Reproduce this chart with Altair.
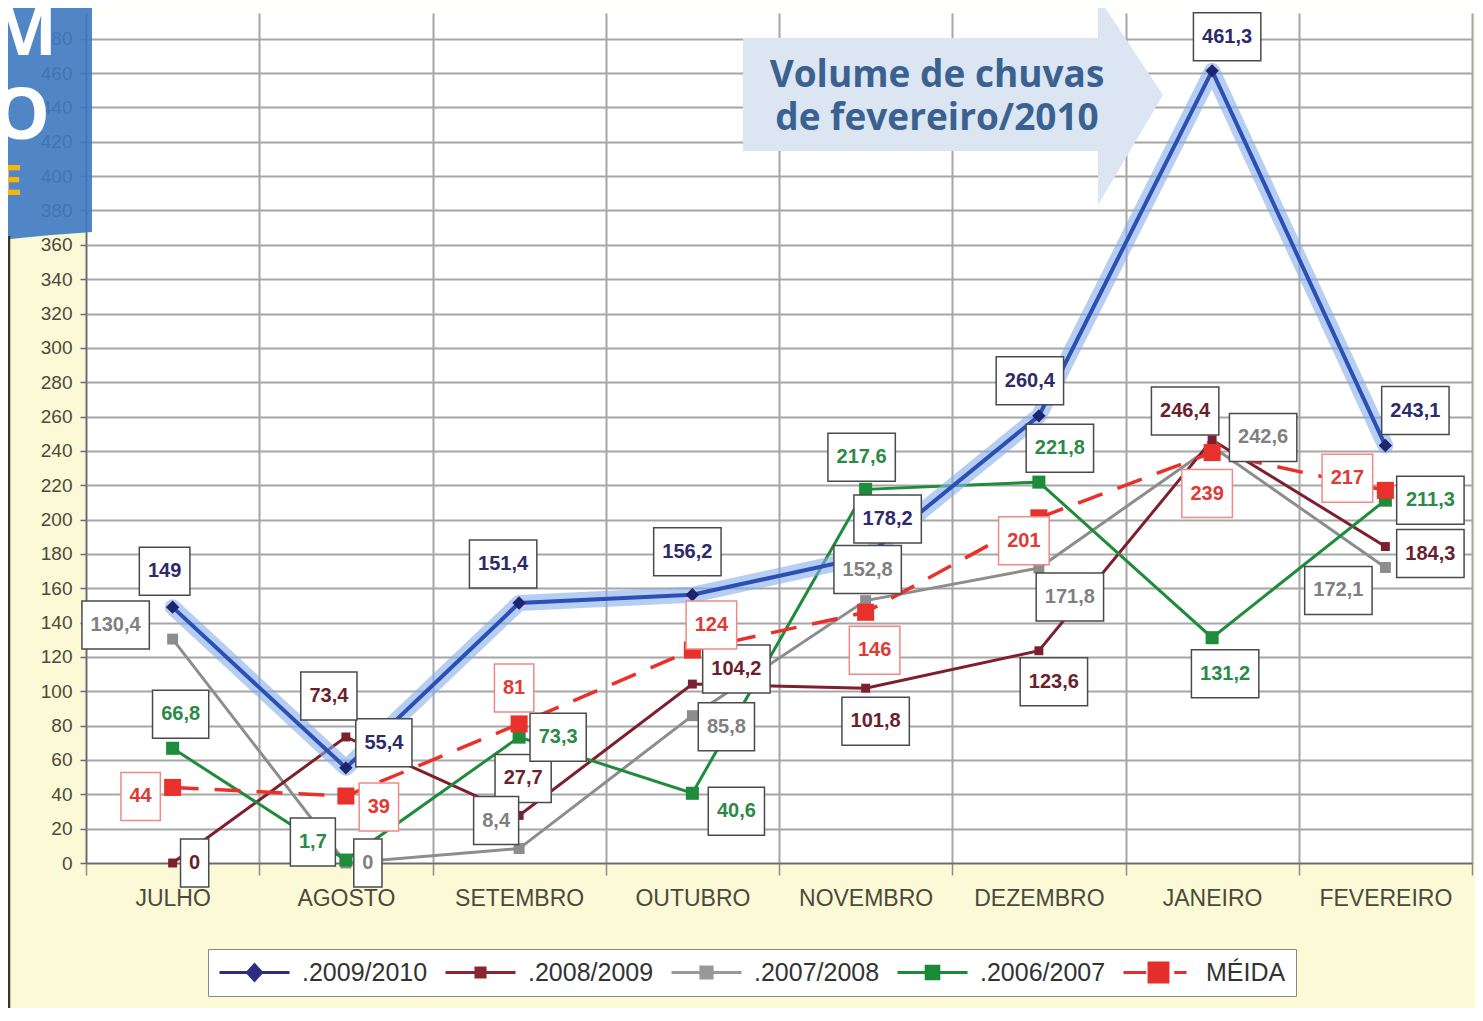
import json
import altair as alt
import pandas as pd

# ---------------- data ----------------
MONTHS = ["JULHO", "AGOSTO", "SETEMBRO", "OUTUBRO", "NOVEMBRO", "DEZEMBRO", "JANEIRO", "FEVEREIRO"]
SERIES = [".2009/2010", ".2008/2009", ".2007/2008", ".2006/2007", "MÉIDA"]

S_2009_2010 = [149, 55.4, 151.4, 156.2, 178.2, 260.4, 461.3, 243.1]
S_2008_2009 = [0, 73.4, 27.7, 104.2, 101.8, 123.6, 246.4, 184.3]
S_2007_2008 = [130.4, 0, 8.4, 85.8, 152.8, 171.8, 242.6, 172.1]
S_2006_2007 = [66.8, 1.7, 73.3, 40.6, 217.6, 221.8, 131.2, 211.3]
MEDIA = [44, 39, 81, 124, 146, 201, 239, 217]

Y_TICKS = list(range(0, 481, 20))

# label placement: pixel offset of each label box centre from its point
OFF_2009_2010 = [(-8, -36), (38, -25), (-16, -39), (-5, -43), (22, -38), (-9, -35), (15, -34), (30, -35)]
OFF_2008_2009 = [(22, 0), (-17, -41), (4, -37), (44, -15), (10, 33), (15, 31), (-27, -29), (45, 7)]
OFF_2007_2008 = [(-57, -14), (22, 0), (-23, -28), (34, 11), (2, -31), (31, 29), (51, -9), (-47, 23)]
OFF_2006_2007 = [(8, -34), (-33, -18), (39, 0), (44, 18), (-4, -32), (21, -34), (13, 36), (45, 0)]
OFF_MEDIA = [(-32, 9), (33, 11), (-5, -36), (19, -25), (9, 38), (-15, 23), (-5, 41), (-38, -12)]

# ---------------- styles ----------------
W, H = 1386, 850
YMAX = 495
KX = W / 8.0
KY = H / YMAX
BG = "#fcf9d6"
FONT = "Liberation Sans"

VALUES = [S_2009_2010, S_2008_2009, S_2007_2008, S_2006_2007, MEDIA]
OFFSETS = [OFF_2009_2010, OFF_2008_2009, OFF_2007_2008, OFF_2006_2007, OFF_MEDIA]
LINE_COLORS = ["#2b4fb5", "#7d1f2e", "#8d8d8d", "#1f8c3b", "#e8312b"]
MARK_COLORS = ["#1f2470", "#7d1f2e", "#8d8d8d", "#1f8c3b", "#e8312b"]
TEXT_COLORS = ["#2c2a6a", "#6b1f2e", "#808080", "#2b8a48", "#e03a35"]
BOX_STROKES = ["#4a4a4a", "#4a4a4a", "#4a4a4a", "#4a4a4a", "#f08a88"]
LEGEND_COLORS = ["#2e2d7f", "#8b2530", "#999999", "#1a8a3a", "#e52f2a"]
LEGEND_PATHS = [
    "M-1,0H1M0,-0.22L0.2,0L0,0.22L-0.2,0Z",
    "M-1,0H1M-0.13,-0.13H0.13V0.13H-0.13Z",
    "M-1,0H1M-0.16,-0.16H0.16V0.16H-0.16Z",
    "M-1,0H1M-0.18,-0.18H0.18V0.18H-0.18Z",
    "M-1,0H-0.35M0.45,0H0.8M-0.27,-0.27H0.27V0.27H-0.27Z",
]

# ---------------- tables ----------------
pts = []
labs = []
for s, vals, offs, tc, bs in zip(SERIES, VALUES, OFFSETS, TEXT_COLORS, BOX_STROKES):
    for i, v in enumerate(vals):
        pts.append({"serie": s, "i": i, "v": v})
        txt = f"{v:g}".replace(".", ",")
        nd = sum(c.isdigit() for c in txt)
        nc = txt.count(",")
        w = 11.2 * nd + 5.6 * nc + 17
        dx, dy = offs[i]
        lx = i + dx / KX
        ly = v - dy / KY
        labs.append({
            "serie": s, "txt": txt, "lx": lx, "ly": ly,
            "x1": lx - w / 2 / KX, "x2": lx + w / 2 / KX,
            "y1": ly + 24 / KY, "y2": ly - 24 / KY,
            "tcolor": tc, "bstroke": bs,
        })
pts = pd.DataFrame(pts)
labs = pd.DataFrame(labs)

# ---------------- scales / axes ----------------
XV = [k / 2 - 0.5 for k in range(17)]
XS = alt.Scale(domain=[-0.5, 7.5], nice=False, zero=False)
YS = alt.Scale(domain=[0, YMAX], nice=False, zero=True)
label_expr = "datum.value % 1 == 0 ? " + json.dumps(MONTHS) + "[datum.value] : ''"
XA = alt.Axis(
    values=XV, labelExpr=label_expr, title=None, grid=True,
    gridColor="#a6a6a6", gridWidth=2,
    gridOpacity={"condition": {"test": "datum.value % 1 != 0", "value": 1}, "value": 0},
    tickOpacity={"condition": {"test": "datum.value % 1 != 0", "value": 1}, "value": 0},
    tickSize=12, tickColor="#8a8a8a", tickWidth=1.5,
    domainColor="#6b6b6b", domainWidth=1.5,
    labelFont=FONT, labelFontSize=23, labelColor="#4a4a3c", labelPadding=12,
    labelOverlap=False, labelFlush=False,
)
YA = alt.Axis(
    values=Y_TICKS, title=None, grid=True, gridColor="#a6a6a6", gridWidth=2,
    domainColor="#6b6b6b", domainWidth=1.5, tickColor="#6b6b6b", tickSize=6, tickWidth=1.5,
    labelFont=FONT, labelFontSize=19, labelColor="#4a4a3c", labelPadding=8,
)


def X(f):
    return alt.X(f"{f}:Q", scale=XS, axis=XA)


def Y(f):
    return alt.Y(f"{f}:Q", scale=YS, axis=YA)


layers = []
one = pd.DataFrame({"k": [0]})

# white strip above plot
layers.append(alt.Chart(one).mark_point(
    shape="M6,-14H1400V0H6Z", size=4, filled=True, fill="white", opacity=1, strokeWidth=0
).encode(x=alt.value(0), y=alt.value(0)))

# lines (gray, maroon, green, red dashed, blue glow, blue)
order = [2, 1, 3, 4]
for k in order:
    d = pts[pts.serie == SERIES[k]]
    kw = dict(color=LINE_COLORS[k], strokeWidth=3)
    if k == 4:
        kw.update(strokeDash=[26, 16], strokeWidth=3.5)
    layers.append(alt.Chart(d).mark_line(**kw).encode(x=X("i"), y=Y("v")))
d0 = pts[pts.serie == SERIES[0]]
layers.append(alt.Chart(d0).mark_line(
    color="#86aeea", strokeWidth=16, opacity=0.6, strokeJoin="round", strokeCap="round"
).encode(x=X("i"), y=Y("v")))
layers.append(alt.Chart(d0).mark_line(color=LINE_COLORS[0], strokeWidth=4).encode(x=X("i"), y=Y("v")))

# markers
sizes = [180, 80, 120, 170, 290]
shapes = ["diamond", "square", "square", "square", "square"]
for k in [2, 1, 3, 4, 0]:
    d = pts[pts.serie == SERIES[k]]
    layers.append(alt.Chart(d).mark_point(
        shape=shapes[k], size=sizes[k], filled=True, opacity=1, color=MARK_COLORS[k]
    ).encode(x=X("i"), y=Y("v")))

# label boxes and texts
layers.append(alt.Chart(labs).mark_rect(fill="white", strokeWidth=1.5).encode(
    x=X("x1"), x2="x2", y=Y("y1"), y2="y2", stroke=alt.Stroke("bstroke:N", scale=None)))
layers.append(alt.Chart(labs).mark_text(
    font=FONT, fontSize=20, fontWeight="bold", align="center", baseline="middle"
).encode(x=X("lx"), y=Y("ly"), text="txt:N", color=alt.Color("tcolor:N", scale=None)))

# callout arrow
layers.append(alt.Chart(one).mark_point(
    shape="M657,25H1012V-16L1077,82L1012,192V138H657Z", size=4, filled=True,
    fill="#dce6f2", opacity=1, strokeWidth=0
).encode(x=alt.value(0), y=alt.value(0)))
for txt, yy in [("Volume de chuvas", 74), ("de fevereiro/2010", 117)]:
    layers.append(alt.Chart(one).mark_text(
        text=txt, font="Open Sans", fontSize=37, fontWeight="bold", color="#3a6190",
        align="center", baseline="alphabetic"
    ).encode(x=alt.value(851), y=alt.value(yy)))

# slide decoration panel
layers.append(alt.Chart(one).mark_point(
    shape="M-95,-20H6V219Q-40,222 -95,228Z", size=4, filled=True,
    fill="#3e79c4", opacity=0.9, strokeWidth=0
).encode(x=alt.value(0), y=alt.value(0)))
for txt, xx, yy, fs, col in [("M", -29, 42, 70, "white"), ("O", -36, 126, 72, "white"),
                             ("E", -64, 182, 42, "#f5b700")]:
    layers.append(alt.Chart(one).mark_text(
        text=txt, font="Open Sans", fontSize=fs, fontWeight="bold", color=col,
        align="right", baseline="alphabetic"
    ).encode(x=alt.value(xx), y=alt.value(yy)))
layers.append(alt.Chart(one).mark_rule(color="#3a3520", strokeWidth=2.5).encode(
    x=alt.value(-77), y=alt.value(223), y2=alt.value(995)))

# legend layer
legend = alt.Legend(
    title=None, orient="none", legendX=122, legendY=936, direction="horizontal", columns=5,
    symbolSize=4900, symbolStrokeWidth=3, symbolOpacity=1, clipHeight=27,
    labelFont=FONT, labelFontSize=25, labelColor="#333333", labelOffset=11, labelLimit=0,
    columnPadding=16, padding=10, fillColor="white", strokeColor="#888888",
)
leg_df = pd.DataFrame({"serie": SERIES, "i": [0] * 5, "v": [0] * 5})
layers.append(alt.Chart(leg_df).mark_point(opacity=0, filled=True, size=4900, strokeWidth=3).encode(
    x=X("i"), y=Y("v"),
    shape=alt.Shape("serie:N", scale=alt.Scale(domain=SERIES, range=LEGEND_PATHS), legend=legend),
    fill=alt.Fill("serie:N", scale=alt.Scale(domain=SERIES, range=LEGEND_COLORS), legend=legend),
    stroke=alt.Stroke("serie:N", scale=alt.Scale(domain=SERIES, range=LEGEND_COLORS), legend=legend),
))

chart = alt.layer(*layers).properties(
    width=W, height=H, background=BG,
    padding={"left": 78, "top": 5, "right": 3, "bottom": 145},
    autosize=alt.AutoSizeParams(type="none"),
).configure_view(stroke="transparent", fill="white")

chart.save("out.html", embed_options={"renderer": "svg", "actions": False})
